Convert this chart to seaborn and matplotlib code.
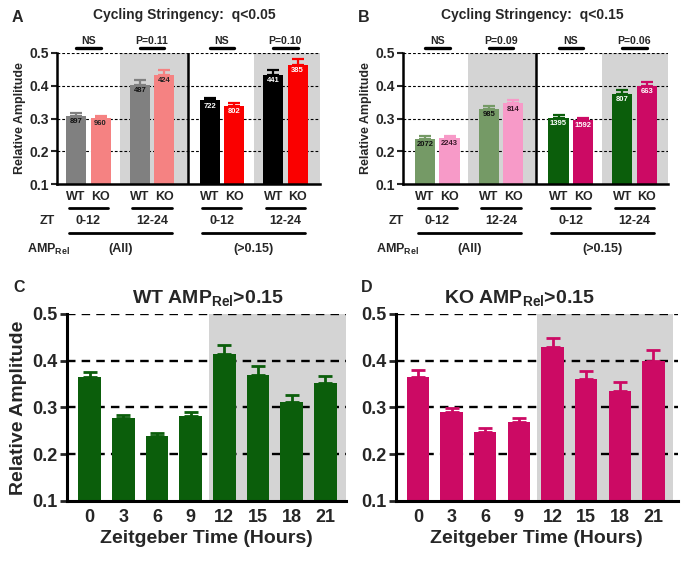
import numpy as np
import pandas as pd
import matplotlib
matplotlib.use("Agg")
import matplotlib.pyplot as plt
import matplotlib.transforms as mtransforms
import seaborn as sns

# ---------------- data ----------------
genotypes = ["WT", "KO", "WT", "KO", "WT", "KO", "WT", "KO"]
zt_windows = ["0-12", "12-24", "0-12", "12-24"]
amp_groups = ["(All)", "(>0.15)"]

sig_a = ["NS", "P=0.11", "NS", "P=0.10"]
amp_a = [0.307, 0.301, 0.403, 0.434, 0.355, 0.339, 0.434, 0.464]
err_a = [0.010, 0.008, 0.014, 0.015, 0.009, 0.008, 0.013, 0.017]
n_a = [897, 960, 487, 424, 722, 802, 441, 385]

sig_b = ["NS", "P=0.09", "NS", "P=0.06"]
amp_b = [0.238, 0.240, 0.329, 0.346, 0.303, 0.295, 0.375, 0.398]
err_b = [0.008, 0.006, 0.008, 0.011, 0.007, 0.007, 0.011, 0.013]
n_b = [2072, 2243, 985, 814, 1395, 1592, 807, 663]

zt_hours = ["0", "3", "6", "9", "12", "15", "18", "21"]
amp_wt = [0.364, 0.277, 0.239, 0.282, 0.414, 0.370, 0.311, 0.352]
err_wt = [0.011, 0.007, 0.007, 0.008, 0.019, 0.019, 0.015, 0.016]
amp_ko = [0.366, 0.291, 0.247, 0.269, 0.429, 0.361, 0.336, 0.400]
err_ko = [0.013, 0.008, 0.009, 0.008, 0.019, 0.017, 0.019, 0.023]

# ---------------- style ----------------
sns.set_theme(style="white")
FONT = "Liberation Sans"
plt.rcParams["font.family"] = [FONT, "DejaVu Sans"]
plt.rcParams["font.weight"] = "bold"
plt.rcParams["mathtext.fontset"] = "custom"
plt.rcParams["mathtext.rm"] = FONT + ":bold"
plt.rcParams["mathtext.bf"] = FONT + ":bold"
plt.rcParams["mathtext.it"] = FONT + ":bold"
plt.rcParams["mathtext.default"] = "bf"

BAND = "#d4d4d4"
pos = [0, 1, 2.6, 3.6, 5.45, 6.45, 8.05, 9.05]

cols_a = ["#808080", "#f58282", "#808080", "#f58282", "#000000", "#fa0000", "#000000", "#fa0000"]
txt_a = ["#111111", "#222222", "#111111", "#222222", "white", "white", "white", "white"]
cols_b = ["#759a66", "#f79ac8", "#759a66", "#f79ac8", "#0b5e0b", "#cc0a64", "#0b5e0b", "#cc0a64"]
txt_b = ["#111111", "#3a1a2a", "#111111", "#3a1a2a", "white", "white", "white", "white"]

fig = plt.figure(figsize=(6.88, 5.64), dpi=100)


def draw_top(rect, xlim, bands, divider, amp, err, ns, cols, tcols, sig, title_x, title):
    ax = fig.add_axes(rect)
    for b0, b1 in bands:
        ax.axvspan(b0, b1, color=BAND, lw=0, zorder=0)
    for y in [0.2, 0.3, 0.4, 0.5]:
        ax.axhline(y, color="black", lw=0.8, ls=(0, (2.5, 1.8)), zorder=1)
    df = pd.DataFrame({"pos": pos, "amp": amp, "bar": [f"b{i}" for i in range(8)]})
    sns.barplot(data=df, x="pos", y="amp", hue="bar",
                palette=dict(zip(df["bar"], cols)), saturation=1, native_scale=True,
                dodge=False, errorbar=None, width=0.82, legend=False,
                ax=ax, zorder=2, linewidth=0)
    for i in range(8):
        ax.errorbar(pos[i], amp[i], yerr=[[0], [err[i]]], fmt="none",
                    ecolor=cols[i], elinewidth=1.6, capsize=4.2, capthick=1.6, zorder=3)
        ax.text(pos[i], amp[i] - 0.017, str(ns[i]), ha="center", va="center",
                fontsize=5.5, fontweight="bold", color=tcols[i], zorder=4)
    ax.axvline(divider, color="black", lw=1.8, zorder=3)
    ax.set_xlim(*xlim)
    ax.set_ylim(0.1, 0.5)
    ax.set_yticks([0.1, 0.2, 0.3, 0.4, 0.5])
    ax.set_yticklabels(["0.1", "0.2", "0.3", "0.4", "0.5"], fontsize=10, fontweight="bold")
    ax.set_xticks(pos)
    ax.set_xticklabels(genotypes, fontsize=9, fontweight="bold")
    ax.tick_params(axis="x", length=0, pad=5)
    ax.tick_params(axis="y", length=4, width=1.5, pad=1.5, left=True)
    ax.set_xlabel("")
    ax.set_ylabel("Relative Amplitude", fontsize=9, fontweight="bold", labelpad=3)
    for s in ["top", "right"]:
        ax.spines[s].set_visible(False)
    for s in ["left", "bottom"]:
        ax.spines[s].set_linewidth(1.8)
        ax.spines[s].set_color("black")
    tr = mtransforms.blended_transform_factory(ax.transData, ax.transAxes)
    for k in range(4):
        x0, x1 = pos[2 * k], pos[2 * k + 1]
        ax.plot([x0, x1], [1.035, 1.035], transform=tr, clip_on=False, color="black", lw=2.4)
        ax.text((x0 + x1) / 2, 1.095, sig[k], transform=tr, ha="center", va="center",
                fontsize=7.6, fontweight="bold")
        ax.plot([x0 - 0.3, x1 + 0.3], [-0.183, -0.183], transform=tr, clip_on=False,
                color="black", lw=2.0)
        ax.text((x0 + x1) / 2, -0.282, zt_windows[k], transform=tr, ha="center", va="center",
                fontsize=9, fontweight="bold")
    ax.text(-1.18, -0.282, "ZT", transform=tr, ha="center", va="center", fontsize=9, fontweight="bold")
    for g in range(2):
        x0, x1 = pos[4 * g] - 0.3, pos[4 * g + 3] + 0.3
        ax.plot([x0, x1], [-0.374, -0.374], transform=tr, clip_on=False, color="black", lw=2.0)
        ax.text((x0 + x1) / 2, -0.496, amp_groups[g], transform=tr, ha="center", va="center",
                fontsize=9, fontweight="bold")
    ax.text(-2.0, -0.496, r"AMP$_{Rel}$", transform=tr, ha="left", va="center",
            fontsize=9, fontweight="bold")
    fig.text(title_x / 688, 1 - 15 / 564, title, ha="center", va="center", fontsize=10, fontweight="bold")
    return ax


axA = draw_top([57 / 688, 1 - 184 / 564, 263 / 688, 131 / 564], (-0.78, 9.96),
               [(1.8, 4.55), (7.27, 9.96)], 4.57, amp_a, err_a, n_a, cols_a, txt_a, sig_a,
               184, "Cycling Stringency:  q<0.05")
axB = draw_top([403 / 688, 1 - 184 / 564, 265 / 688, 131 / 564], (-0.9, 9.92),
               [(1.76, 4.53), (7.22, 9.92)], 4.53, amp_b, err_b, n_b, cols_b, txt_b, sig_b,
               532, "Cycling Stringency:  q<0.15")


def draw_bottom(rect, xlim, band, amp, err, col, title_x, title, ylabel):
    ax = fig.add_axes(rect)
    ax.axvspan(band[0], band[1], color=BAND, lw=0, zorder=0)
    for y in [0.2, 0.3, 0.4, 0.5]:
        ax.axhline(y, color="black", lw=1.7, ls=(0, (3.6, 2.6)), zorder=1)
    df = pd.DataFrame({"zt": zt_hours, "amp": amp})
    sns.barplot(data=df, x="zt", y="amp", order=zt_hours, color=col, saturation=1,
                errorbar=None, width=0.67, ax=ax, zorder=2, linewidth=0)
    for i in range(len(zt_hours)):
        ax.errorbar(i, amp[i], yerr=[[0], [err[i]]], fmt="none", ecolor=col,
                    elinewidth=2.0, capsize=5.2, capthick=2.0, zorder=3)
    ax.set_xlim(*xlim)
    ax.set_ylim(0.1, 0.5)
    ax.set_yticks([0.1, 0.2, 0.3, 0.4, 0.5])
    ax.set_yticklabels(["0.1", "0.2", "0.3", "0.4", "0.5"], fontsize=13, fontweight="bold")
    ax.set_xticks(range(len(zt_hours)))
    ax.set_xticklabels(zt_hours, fontsize=13, fontweight="bold")
    ax.tick_params(axis="x", length=0, pad=6)
    ax.tick_params(axis="y", length=5, width=2, pad=1.5, left=True)
    ax.set_xlabel("Zeitgeber Time (Hours)", fontsize=14, fontweight="bold", labelpad=3)
    ax.set_ylabel(ylabel, fontsize=14, fontweight="bold", labelpad=4)
    for s in ["top", "right"]:
        ax.spines[s].set_visible(False)
    for s in ["left", "bottom"]:
        ax.spines[s].set_linewidth(2.2)
        ax.spines[s].set_color("black")
    fig.text(title_x / 688, 1 - 298 / 564, title, ha="center", va="center", fontsize=14, fontweight="bold")
    return ax


axC = draw_bottom([67 / 688, 1 - 500.7 / 564, 279 / 688, 186.7 / 564], (-0.67, 7.61), (3.53, 7.61),
                  amp_wt, err_wt, "#0b5e0b", 208, r"WT AMP$_{Rel}$>0.15", "Relative Amplitude")
axD = draw_bottom([395.7 / 688, 1 - 500.7 / 564, 282 / 688, 186.7 / 564], (-0.66, 7.72), (3.53, 7.57),
                  amp_ko, err_ko, "#cc0a64", 519, r"KO AMP$_{Rel}$>0.15", "")

for lx, ly, lt in [(17, 18, "A"), (364, 18, "B"), (19, 287, "C"), (367, 287, "D")]:
    fig.text(lx / 688, 1 - ly / 564, lt, ha="center", va="center", fontsize=11.5, fontweight="bold")

fig.savefig("out.png", dpi=100)
